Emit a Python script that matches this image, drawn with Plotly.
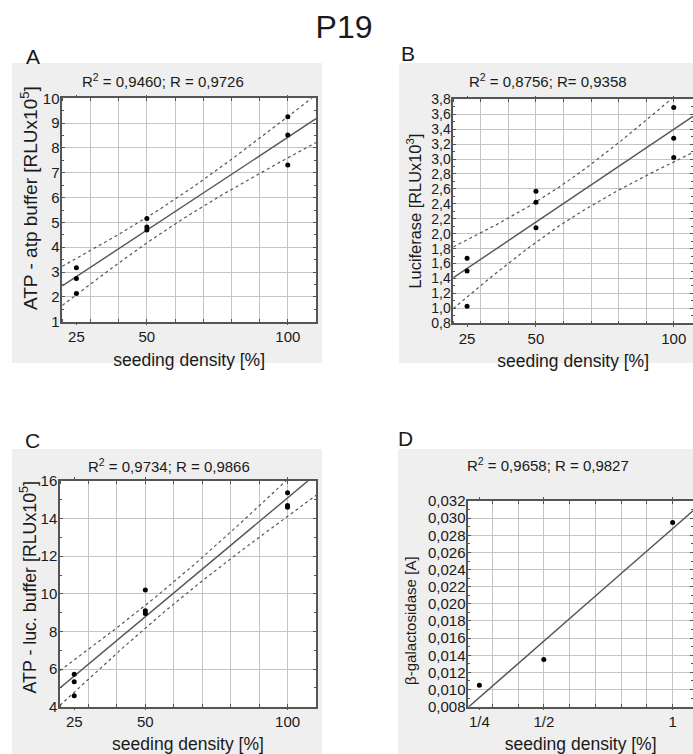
import numpy as np
import plotly.graph_objects as go

# ---------------- data ----------------
seeding_density = [25, 25, 25, 50, 50, 50, 100, 100, 100]
atp_atp_buffer = [3.17, 2.74, 2.14, 5.16, 4.82, 4.69, 9.26, 8.52, 7.31]
luciferase = [1.67, 1.50, 1.03, 2.57, 2.42, 2.08, 3.69, 3.28, 3.02]
atp_luc_buffer = [5.72, 5.32, 4.58, 10.20, 9.10, 8.95, 15.37, 14.70, 14.60]
seeding_fraction = [0.25, 0.5, 1.0]
beta_gal = [0.0105, 0.0135, 0.0295]

x_ticks_pct = [25, 50, 100]
x_ticks_pct_text = ["25", "50", "100"]
x_ticks_frac = [0.25, 0.5, 1.0]
x_ticks_frac_text = ["1/4", "1/2", "1"]

titles = {
    "A": "R<sup>2</sup> = 0,9460; R = 0,9726",
    "B": "R<sup>2</sup> = 0,8756; R= 0,9358",
    "C": "R<sup>2</sup> = 0,9734; R = 0,9866",
    "D": "R<sup>2</sup> = 0,9658; R = 0,9827",
}
y_titles = {
    "A": "ATP - atp buffer [RLUx10<sup>5</sup>]",
    "B": "Luciferase [RLUx10<sup>3</sup>]",
    "C": "ATP - luc. buffer [RLUx10<sup>5</sup>]",
    "D": "β-galactosidase [A]",
}
x_title = "seeding density [%]"

T_975_DF7 = 2.3646  # Student t quantile, 95 %, 7 degrees of freedom

# ---------------- styling ----------------
W, H = 693, 754
FONT = "Liberation Sans, Arial, sans-serif"
TXT = "#1a1a1a"
FRAME = "#555555"
GRID = "#c4c4c4"
LINE = "#555555"
PANEL_BG = "#efefef"
TICK_FS = 15
TITLE_FS = 17.5


def fit_band(x, y, xs, t=T_975_DF7):
    x = np.asarray(x, float)
    y = np.asarray(y, float)
    b, a = np.polyfit(x, y, 1)
    yhat = a + b * xs
    n = len(x)
    resid = y - (a + b * x)
    s = np.sqrt(np.sum(resid ** 2) / (n - 2))
    sxx = np.sum((x - x.mean()) ** 2)
    hw = t * s * np.sqrt(1.0 / n + (xs - x.mean()) ** 2 / sxx)
    return yhat, yhat - hw, yhat + hw


def px_x(p):
    return p / W


def px_y(p):
    return 1 - p / H


fig = go.Figure()

panels = [
    # key, sfx, x, y, x range, y range, y dtick, y fmt, bands, xticks, xtext, minor dx,
    # plot px x, plot px y, y tick font, y title centre (px), y title font
    ("A", "", seeding_density, atp_atp_buffer, [20, 110], [1, 10], 1, "d", True,
     x_ticks_pct, x_ticks_pct_text, 10, (62.3, 316), (98.3, 321.7), TICK_FS, (28.5, 198.5), 19),
    ("B", "2", seeding_density, luciferase, [20, 107], [0.8, 3.8], 0.2, ".1f", True,
     x_ticks_pct, x_ticks_pct_text, 10, (453.3, 693), (99.3, 323.3), 14, (414.5, 211), 16.4),
    ("C", "3", seeding_density, atp_luc_buffer, [20, 110], [4, 16], 2, "d", True,
     x_ticks_pct, x_ticks_pct_text, 10, (60, 316), (481, 706.7), TICK_FS, (28.5, 587), 17.8),
    ("D", "4", seeding_fraction, beta_gal, [0.207, 1.079], [0.008, 0.032], 0.002, ".3f", False,
     x_ticks_frac, x_ticks_frac_text, 0.1, (468.3, 693), (501, 706.7), TICK_FS, (410, 621), 15.1),
]

shapes = []
for x0, x1, y0, y1 in [(12, 322, 63, 363), (399, 693, 63, 363),
                       (12, 322, 449, 754), (398, 693, 449, 754)]:
    shapes.append(dict(type="rect", xref="paper", yref="paper", layer="below",
                       x0=px_x(x0), x1=px_x(x1), y0=px_y(y1), y1=px_y(y0),
                       fillcolor=PANEL_BG, line=dict(width=0)))

annotations = []
layout_axes = {}
for (key, sfx, xd, yd, xr, yr, ydt, yfmt, bands, xtv, xtt, mdx, xpx, ypx,
     yfs, ytpos, ytfs) in panels:
    xa = "x" + sfx
    ya = "y" + sfx
    xs = np.linspace(xr[0], xr[1], 200)
    yhat, lo, hi = fit_band(xd, yd, xs)
    if bands:
        for band in (hi, lo):
            fig.add_trace(go.Scatter(x=xs, y=band, mode="lines", xaxis=xa, yaxis=ya,
                                     line=dict(color=LINE, width=1.2, dash="dot"),
                                     showlegend=False, hoverinfo="skip"))
    fig.add_trace(go.Scatter(x=xs, y=yhat, mode="lines", xaxis=xa, yaxis=ya,
                             line=dict(color=LINE, width=1.4), showlegend=False,
                             hoverinfo="skip"))
    fig.add_trace(go.Scatter(x=xd, y=yd, mode="markers", xaxis=xa, yaxis=ya,
                             marker=dict(color="black", size=5), showlegend=False,
                             cliponaxis=True))

    # white plotting area on top of the grey panel
    shapes.append(dict(type="rect", xref="paper", yref="paper", layer="below",
                       x0=px_x(xpx[0]), x1=px_x(xpx[1]), y0=px_y(ypx[1]), y1=px_y(ypx[0]),
                       fillcolor="white", line=dict(width=0)))

    layout_axes["xaxis" + sfx] = dict(
        domain=[px_x(xpx[0]), px_x(xpx[1])], range=xr, anchor=ya, automargin=False,
        tickmode="array", tickvals=xtv, ticktext=xtt,
        showgrid=False, ticks="outside", ticklen=2, tickcolor=FRAME, ticklabelstandoff=-1,
        minor=dict(dtick=mdx, tick0=0, showgrid=True, gridcolor=GRID, gridwidth=1,
                   ticks="inside", ticklen=3, tickcolor=FRAME),
        showline=True, linecolor=FRAME, linewidth=1.5, mirror="ticks", zeroline=False,
        tickfont=dict(size=TICK_FS, color=TXT, family=FONT),
        title=dict(text=x_title, standoff=9,
                   font=dict(size=TITLE_FS, color=TXT, family=FONT)),
    )
    layout_axes["yaxis" + sfx] = dict(
        domain=[px_y(ypx[1]), px_y(ypx[0])], range=yr, anchor=xa, automargin=False,
        tickmode="linear", tick0=yr[0], dtick=ydt, tickformat=yfmt,
        showgrid=True, gridcolor=GRID, gridwidth=1,
        ticks="inside", ticklen=3, tickcolor=FRAME, ticklabelstandoff=-2,
        minor=dict(tick0=yr[0], dtick=ydt / 2, ticks="inside", ticklen=2,
                   tickcolor=FRAME, showgrid=False),
        showline=True, linecolor=FRAME, linewidth=1.5, mirror="ticks", zeroline=False,
        tickfont=dict(size=yfs, color=TXT, family=FONT),
    )
    # y-axis title, placed where the reference has it
    annotations.append(dict(text=y_titles[key], x=px_x(ytpos[0]), y=px_y(ytpos[1]),
                            xref="paper", yref="paper", textangle=-90,
                            xanchor="center", yanchor="middle", showarrow=False,
                            font=dict(size=ytfs, color=TXT, family=FONT)))

for key, (cx, cy) in {"A": (32.5, 56), "B": (408, 53), "C": (32, 440), "D": (405, 438)}.items():
    annotations.append(dict(text=key, x=px_x(cx), y=px_y(cy), xref="paper", yref="paper",
                            xanchor="center", yanchor="middle", showarrow=False,
                            font=dict(size=21, color=TXT, family=FONT)))
for key, (cx, cy) in {"A": (163, 80), "B": (548, 80), "C": (169, 465), "D": (548, 464)}.items():
    annotations.append(dict(text=titles[key], x=px_x(cx), y=px_y(cy), xref="paper", yref="paper",
                            xanchor="center", yanchor="middle", showarrow=False,
                            font=dict(size=15, color=TXT, family=FONT)))

fig.update_layout(
    width=W, height=H, autosize=False,
    margin=dict(l=0, r=0, t=0, b=0, pad=0, autoexpand=False),
    paper_bgcolor="white", plot_bgcolor="white",
    separators=",.",
    font=dict(family=FONT, color=TXT),
    title=dict(text="P19", x=344 / W, y=px_y(26.5), xanchor="center", yanchor="middle",
               automargin=False, font=dict(size=32, color=TXT, family=FONT)),
    shapes=shapes, annotations=annotations,
    showlegend=False,
    **layout_axes,
)

fig.write_html("out.html", config={"displayModeBar": False},
               post_script="document.body.style.margin='0';document.body.style.overflow='hidden';")
